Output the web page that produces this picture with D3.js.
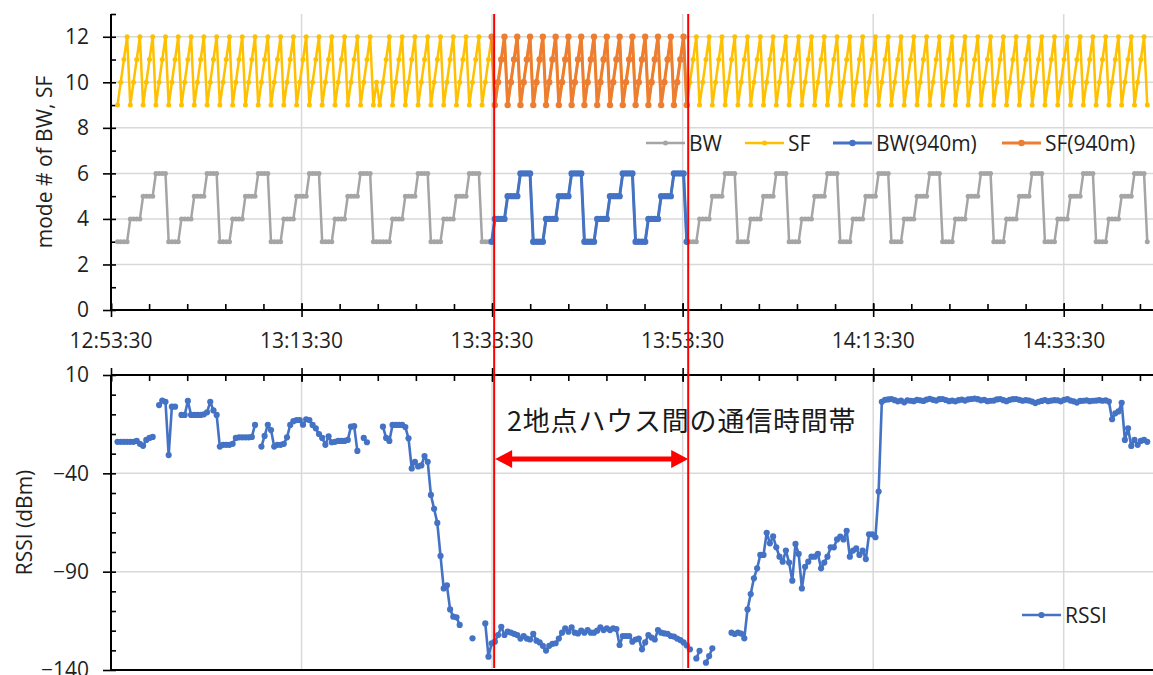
<!DOCTYPE html>
<html>
<head>
<meta charset="utf-8">
<script src="https://cdn.jsdelivr.net/npm/d3@7"></script>
<style>
  body { margin: 0; background: #fff; }
  svg { display: block; font-family: "Open Sans", sans-serif; }
</style>
</head>
<body>
<svg id="chart"></svg>
<script>
// ---- data ----
const xDomain = ["12:53:30", "14:43:30"];
const timeTicks = ["12:53:30", "13:13:30", "13:33:30", "13:53:30", "14:13:30", "14:33:30"];
const sampleStart = "12:54:11";
const sampleStepSec = 20.14;

// BW mode per sample (one row = one BW sweep of 16 packets)
const bw = [
  3,3,3,3,4,4,4,4,5,5,5,5,6,6,6,6,
  3,3,3,3,4,4,4,4,5,5,5,5,6,6,6,6,
  3,3,3,3,4,4,4,4,5,5,5,5,6,6,6,6,
  3,3,3,3,4,4,4,4,5,5,5,5,6,6,6,6,
  3,3,3,3,4,4,4,4,5,5,5,5,6,6,6,6,
  3,3,
  3,3,3,3,4,4,4,4,5,5,5,5,6,6,6,6,
  3,3,3,3,4,4,4,4,5,5,5,5,6,6,6,6,
  3,3,3,3,4,4,4,4,5,5,5,5,6,6,6,6,
  3,3,3,3,4,4,4,4,5,5,5,5,6,6,6,6,
  3,3,3,3,4,4,4,4,5,5,5,5,6,6,6,6,
  3,3,3,3,4,4,4,4,5,5,5,5,6,6,6,6,
  3,3,3,3,4,4,4,4,5,5,5,5,6,6,6,6,
  3,3,3,3,4,4,4,4,5,5,5,5,6,6,6,6,
  3,3,3,3,4,4,4,4,5,5,5,5,6,6,6,6,
  3,3,3,3,4,4,4,4,5,5,5,5,6,6,6,6,
  3,3,3,3,4,4,4,4,5,5,5,5,6,6,6,6,
  3,3,3,3,4,4,4,4,5,5,5,5,6,6,6,6,
  3,3,3,3,4,4,4,4,5,5,5,5,6,6,6,6,
  3,3,3,3,4,4,4,4,5,5,5,5,6,6,6,6,
  3,3,3,3,4,4,4,4,5,5,5,5,6,6,6,6,
  3
];

// SF mode per sample
const sf = [
  9,10,11,12,9,10,11,12,9,10,11,12,9,10,11,12,
  9,10,11,12,9,10,11,12,9,10,11,12,9,10,11,12,
  9,10,11,12,9,10,11,12,9,10,11,12,9,10,11,12,
  9,10,11,12,9,10,11,12,9,10,11,12,9,10,11,12,
  9,10,11,12,9,10,11,12,9,10,11,12,9,10,11,12,
  9,10,
  9,10,11,12,9,10,11,12,9,10,11,12,9,10,11,12,
  9,10,11,12,9,10,11,12,9,10,11,12,9,10,11,12,
  9,10,11,12,9,10,11,12,9,10,11,12,9,10,11,12,
  9,10,11,12,9,10,11,12,9,10,11,12,9,10,11,12,
  9,10,11,12,9,10,11,12,9,10,11,12,9,10,11,12,
  9,10,11,12,9,10,11,12,9,10,11,12,9,10,11,12,
  9,10,11,12,9,10,11,12,9,10,11,12,9,10,11,12,
  9,10,11,12,9,10,11,12,9,10,11,12,9,10,11,12,
  9,10,11,12,9,10,11,12,9,10,11,12,9,10,11,12,
  9,10,11,12,9,10,11,12,9,10,11,12,9,10,11,12,
  9,10,11,12,9,10,11,12,9,10,11,12,9,10,11,12,
  9,10,11,12,9,10,11,12,9,10,11,12,9,10,11,12,
  9,10,11,12,9,10,11,12,9,10,11,12,9,10,11,12,
  9,10,11,12,9,10,11,12,9,10,11,12,9,10,11,12,
  9,10,11,12,9,10,11,12,9,10,11,12,9,10,11,12,
  9
];

// RSSI (dBm) per sample, null = packet lost
const rssi = [
  -24, -24, -24, -24, -24, -24, -23.5, -25, -26, -23,
  -22, -21.5, null, -5.3, -3, -3.6, -30.7, -6.1, -6.1, null,
  -10.3, -10.3, -3.2, -10.3, -10.3, -10.3, -10.3, -10, -9, -3.6,
  -8, -10.3, -26.4, -25.5, -25.5, -25.5, -25, -22, -21.7, -21.7,
  -21.7, -21.7, -21.5, -15.4, null, -26.4, -21, -15.3, -18, -26.4,
  -25.5, -25.5, -25, -21.7, -15.4, -13.5, -12.9, -12.9, -15.3, -12.5,
  -12.9, -15.4, -17.1, -20, -22, -25.5, -21.2, -24.2, -24, -23.5,
  -23.5, -23.5, -23, -16.3, -16, -28.6, null, -22, -24.2, null,
  null, null, null, -16.3, -22, -23.5, -15.4, -15.4, -15.4, -15.4,
  -16.5, -22.2, -37.5, -34.1, -36.5, -36, -31.2, -34.1, -51, -58,
  -65.2, -82, -98.5, -97, -109.2, -112.9, -113.2, -117.1, null, null,
  null, -123.9, null, null, null, -116.3, -133.2, -126.4, -125.6, -122.2,
  -118, -122.2, -120.5, -121, -121.6, -122.2, -124, -122.7, -124, -124.5,
  -121.6, -125.1, -126, -127.7, -130.1, -127.7, -126.7, -126.4, -124, -121,
  -118.8, -120.5, -118.3, -121, -121.4, -120, -121, -119.7, -121, -121,
  -120, -118.3, -119.7, -118.8, -119.7, -118.8, -119.2, -127.3, -122.7, -122.7,
  -122.7, -125.6, -124.5, -124, -129.5, -126, -122.2, -123.5, -124.5, -119.7,
  -121, -121.4, -121.6, -122.7, -123, -124, -124.8, -126, -127.5, -129.5,
  null, -134.1, -130.2, null, -136.3, -132.9, -129, null, null, null,
  null, null, -121, -121.7, -121, -121.5, -123.9, -109.2, -101.4, -93.4,
  -88.3, -81.5, -81.5, -70.2, -75.6, -72.1, -77.6, -82.4, -84.9, -79.3,
  -85.4, -94.6, -75.9, -81, -98.5, -87.5, -84.9, -82.4, -82.4, -81,
  -88.3, -85.4, -82.4, -77.6, -77.6, -73.6, -72.2, -73.6, -69.2, -82.4,
  -79.3, -78.2, -81.5, -79.3, -83.6, -71, -71, -72.5, -49.3, -3.6,
  -2.6, -2.4, -2.2, -2.8, -3.4, -3.0, -3.9, -2.9, -3.1, -3.3,
  -2.6, -2.9, -3.2, -2.5, -2.1, -2.6, -3.0, -2.3, -2.2, -2.7,
  -3.3, -3.0, -3.4, -2.8, -2.5, -3.0, -2.4, -2.2, -2.0, -2.3,
  -2.9, -2.6, -3.3, -3.1, -3.0, -2.4, -2.2, -2.8, -3.3, -2.6,
  -2.3, -2.2, -2.6, -3.1, -2.8, -3.0, -3.5, -4.3, -3.6, -3.2,
  -2.7, -3.3, -3.0, -2.8, -2.9, -3.4, -2.6, -2.3, -3.0, -3.4,
  -4.0, -3.2, -3.1, -2.9, -3.3, -3.1, -3.0, -2.8, -3.1, -2.9,
  -3.5, -12.5, -9.5, -8.5, -4.1, -23, -17.1, -26.1, -23, -25.5,
  -23.5, -23, -24
];

// first / last sample of the 940 m link test
const window940 = [117, 178];
const markerTimes = ["13:33:43", "13:54:05"];
const modeTicks = [0, 2, 4, 6, 8, 10, 12];
const rssiTicks = [10, -40, -90, -140];
const topSeries = ["BW", "SF", "BW(940m)", "SF(940m)"];
const annotation = "2地点ハウス間の通信時間帯";

// ---- layout ----
const W = 1153, H = 675;
const left = 111, right = 1159;
const p1 = { top: 14, bottom: 310 };
const p2 = { top: 375, bottom: 670 };
const FS = 21;
const textColor = "#1f1f1f";
const gridColor = "#d9d9d9";
const colors = { BW: "#a5a5a5", SF: "#ffc000", "BW(940m)": "#4472c4", "SF(940m)": "#ed7d31", RSSI: "#4472c4" };

const parse = d3.timeParse("%H:%M:%S");
const t0 = parse(sampleStart);
const pts = bw.map((v, i) => ({
  t: new Date(t0.getTime() + i * sampleStepSec * 1000),
  bw: v, sf: sf[i], rssi: rssi[i], i
}));

const x = d3.scaleTime().domain(xDomain.map(parse)).range([left, right]);
const y1 = d3.scaleLinear().domain([0, 13]).range([p1.bottom, p1.top]);
const y2 = d3.scaleLinear().domain([-140, 10]).range([p2.bottom, p2.top]);

const majors = timeTicks.map(parse);
const minors = d3.range(0, 111, 4).map(m => d3.timeMinute.offset(parse(xDomain[0]), m));

const svg = d3.select("#chart").attr("width", W).attr("height", H).attr("viewBox", `0 0 ${W} ${H}`);

// ── gridlines ──
function grid(y, p, vals) {
  const g = svg.append("g").attr("stroke", gridColor).attr("stroke-width", 1.5);
  g.selectAll(".h").data(vals).join("line")
    .attr("x1", left).attr("x2", right).attr("y1", d => y(d)).attr("y2", d => y(d));
  g.selectAll(".v").data(majors.slice(1)).join("line")
    .attr("x1", d => x(d)).attr("x2", d => x(d)).attr("y1", p.top).attr("y2", p.bottom);
}
grid(y1, p1, modeTicks.filter(d => d > 0));
grid(y2, p2, [-40, -90]);

// ── axes ──
function styleAxis(g) {
  g.select(".domain").remove();
  g.selectAll(".tick line").attr("stroke", "#000").attr("stroke-width", 1.6);
  g.selectAll(".tick text").attr("font-size", FS).attr("fill", textColor).attr("font-family", "Open Sans");
}

// top panel y
svg.append("g").attr("transform", `translate(${left},0)`)
  .call(d3.axisRight(y1).tickValues(d3.range(0, 14)).tickSize(5).tickFormat(""))
  .call(styleAxis);
svg.append("g").attr("transform", `translate(${left},0)`)
  .call(d3.axisLeft(y1).tickValues(modeTicks).tickSize(8).tickPadding(14))
  .call(styleAxis);

// bottom panel y
svg.append("g").attr("transform", `translate(${left},0)`)
  .call(d3.axisRight(y2).tickValues(d3.range(-140, 11, 10)).tickSize(5).tickFormat(""))
  .call(styleAxis);
svg.append("g").attr("transform", `translate(${left},0)`)
  .call(d3.axisLeft(y2).tickValues(rssiTicks).tickSize(8).tickPadding(14))
  .call(styleAxis);

// top panel x (at 0): minor up, major crossing
svg.append("g").attr("transform", `translate(0,${p1.bottom})`)
  .call(d3.axisTop(x).tickValues(minors).tickSize(6).tickFormat(""))
  .call(styleAxis);
svg.append("g").attr("transform", `translate(0,${p1.bottom})`)
  .call(d3.axisBottom(x).tickValues(majors).tickSize(7).tickFormat(""))
  .call(styleAxis)
  .selectAll(".tick line").attr("y1", -7);

// bottom panel x (at 10 dBm): minor down, major crossing
svg.append("g").attr("transform", `translate(0,${p2.top})`)
  .call(d3.axisBottom(x).tickValues(minors).tickSize(6).tickFormat(""))
  .call(styleAxis);
svg.append("g").attr("transform", `translate(0,${p2.top})`)
  .call(d3.axisTop(x).tickValues(majors).tickSize(7).tickFormat(""))
  .call(styleAxis)
  .selectAll(".tick line").attr("y1", 7);

// time labels between panels
svg.append("g").selectAll("text").data(majors).join("text")
  .attr("x", d => x(d)).attr("y", 347.5)
  .attr("text-anchor", "middle").attr("font-size", FS).attr("fill", textColor)
  .text(d3.timeFormat("%H:%M:%S"));

// axis lines
const axisLines = svg.append("g").attr("stroke", "#000").attr("stroke-width", 2);
axisLines.append("line").attr("x1", left).attr("x2", left).attr("y1", p1.top).attr("y2", p1.bottom);
axisLines.append("line").attr("x1", left).attr("x2", right).attr("y1", p1.bottom).attr("y2", p1.bottom);
axisLines.append("line").attr("x1", left).attr("x2", left).attr("y1", p2.top).attr("y2", p2.bottom);
axisLines.append("line").attr("x1", left).attr("x2", right).attr("y1", p2.top).attr("y2", p2.top);
axisLines.append("line").attr("x1", left).attr("x2", right).attr("y1", p2.bottom).attr("y2", p2.bottom);

// axis titles
svg.append("text")
  .attr("transform", `translate(52,${(p1.top + p1.bottom) / 2}) rotate(-90)`)
  .attr("text-anchor", "middle").attr("font-size", FS).attr("fill", textColor)
  .text("mode # of BW, SF");
svg.append("text")
  .attr("transform", `translate(32,${(p2.top + p2.bottom) / 2}) rotate(-90)`)
  .attr("text-anchor", "middle").attr("font-size", FS).attr("fill", textColor)
  .text("RSSI (dBm)");

// ── series ──
function drawSeries(data, key, y, color, r, sw) {
  const line = d3.line().defined(d => d[key] != null).x(d => x(d.t)).y(d => y(d[key]));
  const g = svg.append("g");
  g.append("path").datum(data).attr("d", line)
    .attr("fill", "none").attr("stroke", color).attr("stroke-width", sw).attr("stroke-linejoin", "round");
  g.selectAll("circle").data(data.filter(d => d[key] != null)).join("circle")
    .attr("cx", d => x(d.t)).attr("cy", d => y(d[key])).attr("r", r).attr("fill", color);
}

const pts940 = pts.filter(d => d.i >= window940[0] && d.i <= window940[1]);
drawSeries(pts, "bw", y1, colors.BW, 2.5, 2.5);
drawSeries(pts, "sf", y1, colors.SF, 2.5, 2.5);
drawSeries(pts940, "bw", y1, colors["BW(940m)"], 3.2, 3);
drawSeries(pts940, "sf", y1, colors["SF(940m)"], 3.2, 3);
drawSeries(pts, "rssi", y2, colors.RSSI, 3.1, 2.6);

// ── legends ──
const legendX = [646, 745, 833, 1002];
const lg = svg.append("g").attr("transform", "translate(0,143)");
topSeries.forEach((name, i) => {
  const big = name.includes("940");
  const g = lg.append("g").attr("transform", `translate(${legendX[i]},0)`);
  g.append("line").attr("x1", 0).attr("x2", 39).attr("stroke", colors[name]).attr("stroke-width", big ? 3 : 2.5);
  g.append("circle").attr("cx", 19.5).attr("r", big ? 3.2 : 2.5).attr("fill", colors[name]);
  g.append("text").attr("x", 43).attr("dy", "0.36em").attr("font-size", FS).attr("fill", textColor).text(name);
});
const lg2 = svg.append("g").attr("transform", "translate(1022,615)");
lg2.append("line").attr("x1", 0).attr("x2", 39).attr("stroke", colors.RSSI).attr("stroke-width", 2.6);
lg2.append("circle").attr("cx", 19.5).attr("r", 3.1).attr("fill", colors.RSSI);
lg2.append("text").attr("x", 43).attr("dy", "0.36em").attr("font-size", FS).attr("fill", textColor).text("RSSI");

// ── 940 m window markers ──
const red = "#ff0000";
const mx = markerTimes.map(parse).map(x);
svg.append("g").selectAll("line").data(mx).join("line")
  .attr("x1", d => d).attr("x2", d => d).attr("y1", p1.top).attr("y2", p2.bottom - 2)
  .attr("stroke", red).attr("stroke-width", 2);

const ay = 459, headL = 17, headH = 9;
svg.append("line")
  .attr("x1", mx[0] + headL - 2).attr("x2", mx[1] - headL + 2).attr("y1", ay).attr("y2", ay)
  .attr("stroke", red).attr("stroke-width", 5);
svg.append("path")
  .attr("d", `M${mx[0] + 1},${ay} L${mx[0] + 1 + headL},${ay - headH} L${mx[0] + 1 + headL},${ay + headH} Z`)
  .attr("fill", red);
svg.append("path")
  .attr("d", `M${mx[1]},${ay} L${mx[1] - headL},${ay - headH} L${mx[1] - headL},${ay + headH} Z`)
  .attr("fill", red);

svg.append("text")
  .attr("x", 507).attr("y", 431)
  .attr("font-family", "'Noto Sans CJK JP', sans-serif").attr("font-size", 27)
  .attr("letter-spacing", 0.8)
  .attr("fill", "#1a1a1a")
  .text(annotation);
</script>
</body>
</html>
